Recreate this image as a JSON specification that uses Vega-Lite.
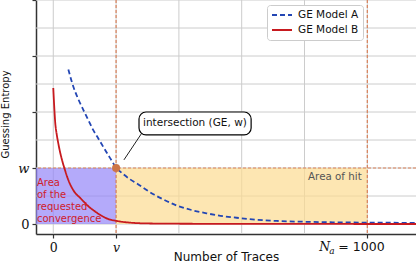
{
  "$schema": "https://vega.github.io/schema/vega-lite/v6.json",
  "width": 380,
  "height": 234,
  "autosize": {"type": "none"},
  "padding": {"left": 36, "top": 0, "right": 0, "bottom": 30},
  "config": {
    "view": {"stroke": null},
    "font": "DejaVu Sans",
    "axis": {
      "grid": false,
      "domainColor": "#333",
      "domainWidth": 1.5,
      "tickSize": 4,
      "tickWidth": 1.2,
      "labelColor": "#111",
      "titleFont": "DejaVu Sans",
      "titleFontWeight": "normal",
      "titleColor": "#111"
    }
  },
  "datasets": {
    "curves": [
      {"model": "GE Model A", "x": 48, "y": 5.52},
      {"model": "GE Model A", "x": 64, "y": 4.9},
      {"model": "GE Model A", "x": 80, "y": 4.45},
      {"model": "GE Model A", "x": 96, "y": 4.07},
      {"model": "GE Model A", "x": 112, "y": 3.7},
      {"model": "GE Model A", "x": 127, "y": 3.36},
      {"model": "GE Model A", "x": 143, "y": 3.06},
      {"model": "GE Model A", "x": 160, "y": 2.74},
      {"model": "GE Model A", "x": 180, "y": 2.37},
      {"model": "GE Model A", "x": 200, "y": 2.02},
      {"model": "GE Model A", "x": 223, "y": 1.78},
      {"model": "GE Model A", "x": 244, "y": 1.6},
      {"model": "GE Model A", "x": 266, "y": 1.45},
      {"model": "GE Model A", "x": 290, "y": 1.27},
      {"model": "GE Model A", "x": 319, "y": 1.06},
      {"model": "GE Model A", "x": 350, "y": 0.88},
      {"model": "GE Model A", "x": 393, "y": 0.66},
      {"model": "GE Model A", "x": 440, "y": 0.5},
      {"model": "GE Model A", "x": 489, "y": 0.38},
      {"model": "GE Model A", "x": 540, "y": 0.28},
      {"model": "GE Model A", "x": 595, "y": 0.21},
      {"model": "GE Model A", "x": 650, "y": 0.15},
      {"model": "GE Model A", "x": 711, "y": 0.11},
      {"model": "GE Model A", "x": 800, "y": 0.08},
      {"model": "GE Model A", "x": 900, "y": 0.06},
      {"model": "GE Model A", "x": 1000, "y": 0.05},
      {"model": "GE Model A", "x": 1160, "y": 0.04},
      {"model": "GE Model B", "x": 0, "y": 4.86},
      {"model": "GE Model B", "x": 3, "y": 4.2},
      {"model": "GE Model B", "x": 6, "y": 3.65},
      {"model": "GE Model B", "x": 11, "y": 3.2},
      {"model": "GE Model B", "x": 16, "y": 2.88},
      {"model": "GE Model B", "x": 22, "y": 2.55},
      {"model": "GE Model B", "x": 30, "y": 2.2},
      {"model": "GE Model B", "x": 38, "y": 1.9},
      {"model": "GE Model B", "x": 48, "y": 1.57},
      {"model": "GE Model B", "x": 60, "y": 1.28},
      {"model": "GE Model B", "x": 72, "y": 1.08},
      {"model": "GE Model B", "x": 85, "y": 0.94},
      {"model": "GE Model B", "x": 100, "y": 0.76},
      {"model": "GE Model B", "x": 115, "y": 0.6},
      {"model": "GE Model B", "x": 128, "y": 0.49},
      {"model": "GE Model B", "x": 150, "y": 0.32},
      {"model": "GE Model B", "x": 170, "y": 0.2},
      {"model": "GE Model B", "x": 202, "y": 0.11},
      {"model": "GE Model B", "x": 244, "y": 0.05},
      {"model": "GE Model B", "x": 300, "y": 0.02},
      {"model": "GE Model B", "x": 400, "y": 0.01},
      {"model": "GE Model B", "x": 600, "y": 0.005},
      {"model": "GE Model B", "x": 1160, "y": 0}
    ]
  },
  "layer": [
    {
      "data": {"values": [{"x": 0}, {"x": 200}, {"x": 400}, {"x": 600}, {"x": 800}, {"x": 1000}]},
      "mark": {"type": "rule", "color": "#cccccc", "strokeWidth": 1},
      "encoding": {
        "x": {"field": "x", "type": "quantitative",
          "scale": {"domain": [-55, 1155], "nice": false, "zero": false},
          "title": "Number of Traces",
          "axis": {
            "values": [0, 200, 1000],
            "labelExpr": "datum.value == 0 ? '0' : datum.value == 200 ? 'v' : ''",
            "labelFont": "DejaVu Serif",
            "labelFontStyle": {"condition": {"test": "datum.value == 200", "value": "italic"}, "value": "normal"},
            "labelFontSize": 12.5,
            "labelPadding": 3,
            "tickColor": "#333",
            "titleFontSize": 12,
            "titleX": 190,
            "titleY": 17
          }
        }
      }
    },
    {
      "data": {"values": [{"y": 0}, {"y": 1}, {"y": 2}, {"y": 3}, {"y": 4}, {"y": 5}, {"y": 6}, {"y": 7}, {"y": 8}]},
      "mark": {"type": "rule", "color": "#cccccc", "strokeWidth": 1},
      "encoding": {
        "y": {"field": "y", "type": "quantitative",
          "scale": {"domain": [-0.357, 8], "nice": false, "zero": false},
          "title": "Guessing Entropy",
          "axis": {
            "values": [0, 1, 2, 3, 4, 5, 6, 7, 8],
            "labelExpr": "datum.value == 0 ? '0' : datum.value == 2 ? 'w' : ''",
            "labelFont": "DejaVu Serif",
            "labelFontStyle": {"condition": {"test": "datum.value == 2", "value": "italic"}, "value": "normal"},
            "labelFontSize": 13,
            "labelPadding": 3,
            "tickColor": "#333",
            "titleFontSize": 10,
            "titleX": -26,
            "titleY": 114
          }
        }
      }
    },
    {
      "data": {"values": [{"x": -55, "x2": 200, "y": 0, "y2": 2}]},
      "mark": {"type": "rect", "color": "#9486f8", "opacity": 0.7},
      "encoding": {
        "x": {"field": "x", "type": "quantitative"},
        "x2": {"field": "x2"},
        "y": {"field": "y", "type": "quantitative"},
        "y2": {"field": "y2"}
      }
    },
    {
      "data": {"values": [{"x": 200, "x2": 1000, "y": 0, "y2": 2}]},
      "mark": {"type": "rect", "color": "#fcdb91", "opacity": 0.7},
      "encoding": {
        "x": {"field": "x", "type": "quantitative"},
        "x2": {"field": "x2"},
        "y": {"field": "y", "type": "quantitative"},
        "y2": {"field": "y2"}
      }
    },
    {
      "data": {"values": [{"x": 200}, {"x": 1000}]},
      "mark": {"type": "rule", "color": "#d9825b", "strokeDash": [3, 2], "strokeWidth": 1.2},
      "encoding": {"x": {"field": "x", "type": "quantitative"}}
    },
    {
      "data": {"values": [{"y": 2}]},
      "mark": {"type": "rule", "color": "#d9825b", "strokeDash": [3, 2], "strokeWidth": 1.2},
      "encoding": {"y": {"field": "y", "type": "quantitative"}}
    },
    {
      "data": {"name": "curves"},
      "mark": {"type": "line", "strokeWidth": 1.8, "interpolate": "monotone", "clip": true},
      "encoding": {
        "x": {"field": "x", "type": "quantitative"},
        "y": {"field": "y", "type": "quantitative"},
        "color": {"field": "model", "type": "nominal",
          "scale": {"domain": ["GE Model A", "GE Model B"], "range": ["#2346b4", "#c71a1f"]},
          "legend": {"orient": "none", "legendX": 231, "legendY": 5, "title": null,
            "symbolType": "M-2,0H2", "symbolSize": 100, "symbolStrokeWidth": 2,
            "symbolOffset": 5, "labelOffset": 10,
            "labelFontSize": 10.5, "labelFont": "DejaVu Sans", "labelColor": "#111",
            "fillColor": "white", "strokeColor": "#cccccc", "cornerRadius": 3,
            "padding": 4, "rowPadding": 3}
        },
        "strokeDash": {"field": "model", "type": "nominal",
          "scale": {"domain": ["GE Model A", "GE Model B"], "range": [[5, 3], [1, 0]]},
          "legend": {"orient": "none", "legendX": 231, "legendY": 5, "title": null,
            "symbolType": "M-2,0H2", "symbolSize": 100, "symbolStrokeWidth": 2,
            "symbolOffset": 5, "labelOffset": 10,
            "labelFontSize": 10.5, "labelFont": "DejaVu Sans", "labelColor": "#111",
            "fillColor": "white", "strokeColor": "#cccccc", "cornerRadius": 3,
            "padding": 4, "rowPadding": 3}
        }
      }
    },
    {
      "data": {"values": [{"x": 200, "y": 2}]},
      "mark": {"type": "point", "filled": true, "size": 65, "color": "#cd7548", "opacity": 1},
      "encoding": {
        "x": {"field": "x", "type": "quantitative"},
        "y": {"field": "y", "type": "quantitative"}
      }
    },
    {
      "data": {"values": [{"x": 281.5, "y": 3.24, "x2": 225, "y2": 2.29}]},
      "mark": {"type": "rule", "color": "#222", "strokeWidth": 1},
      "encoding": {
        "x": {"field": "x", "type": "quantitative"},
        "y": {"field": "y", "type": "quantitative"},
        "x2": {"field": "x2"},
        "y2": {"field": "y2"}
      }
    },
    {
      "data": {"values": [{"x": 273, "x2": 630, "y": 3.18, "y2": 4.0}]},
      "mark": {"type": "rect", "fill": "white", "stroke": "black", "strokeWidth": 1.2, "cornerRadius": 7},
      "encoding": {
        "x": {"field": "x", "type": "quantitative"},
        "x2": {"field": "x2"},
        "y": {"field": "y", "type": "quantitative"},
        "y2": {"field": "y2"}
      }
    },
    {
      "data": {"values": [{"x": 451, "y": 3.59, "label": "intersection (GE, w)"}]},
      "mark": {"type": "text", "fontSize": 10.5, "font": "DejaVu Sans", "color": "#111", "align": "center", "baseline": "middle"},
      "encoding": {
        "x": {"field": "x", "type": "quantitative"},
        "y": {"field": "y", "type": "quantitative"},
        "text": {"field": "label"}
      }
    },
    {
      "data": {"values": [{"x": 982, "y": 1.69, "label": "Area of hit"}]},
      "mark": {"type": "text", "fontSize": 10.3, "font": "DejaVu Sans", "color": "#555", "align": "right", "baseline": "middle"},
      "encoding": {
        "x": {"field": "x", "type": "quantitative"},
        "y": {"field": "y", "type": "quantitative"},
        "text": {"field": "label"}
      }
    },
    {
      "data": {"values": [{"x": -52, "y": 1.64, "label": "Area\nof the\nrequested\nconvergence"}]},
      "mark": {"type": "text", "fontSize": 10, "font": "DejaVu Sans", "color": "#d0202a", "align": "left", "baseline": "top", "lineBreak": "\n", "lineHeight": 11.9},
      "encoding": {
        "x": {"field": "x", "type": "quantitative"},
        "y": {"field": "y", "type": "quantitative"},
        "text": {"field": "label"}
      }
    },
    {
      "data": {"values": [{"x": 1000, "y": -0.357, "label": "N"}]},
      "mark": {"type": "text", "fontSize": 12.5, "font": "DejaVu Serif", "fontStyle": "italic", "color": "#111", "align": "left", "baseline": "alphabetic", "dx": -48, "dy": 17, "clip": false},
      "encoding": {
        "x": {"field": "x", "type": "quantitative"},
        "y": {"field": "y", "type": "quantitative"},
        "text": {"field": "label"}
      }
    },
    {
      "data": {"values": [{"x": 1000, "y": -0.357, "label": "a"}]},
      "mark": {"type": "text", "fontSize": 9, "font": "DejaVu Serif", "fontStyle": "italic", "color": "#111", "align": "left", "baseline": "alphabetic", "dx": -38, "dy": 19.5, "clip": false},
      "encoding": {
        "x": {"field": "x", "type": "quantitative"},
        "y": {"field": "y", "type": "quantitative"},
        "text": {"field": "label"}
      }
    },
    {
      "data": {"values": [{"x": 1000, "y": -0.357, "label": "= 1000"}]},
      "mark": {"type": "text", "fontSize": 12.5, "font": "DejaVu Sans", "color": "#111", "align": "left", "baseline": "alphabetic", "dx": -29, "dy": 17, "clip": false},
      "encoding": {
        "x": {"field": "x", "type": "quantitative"},
        "y": {"field": "y", "type": "quantitative"},
        "text": {"field": "label"}
      }
    }
  ]
}
